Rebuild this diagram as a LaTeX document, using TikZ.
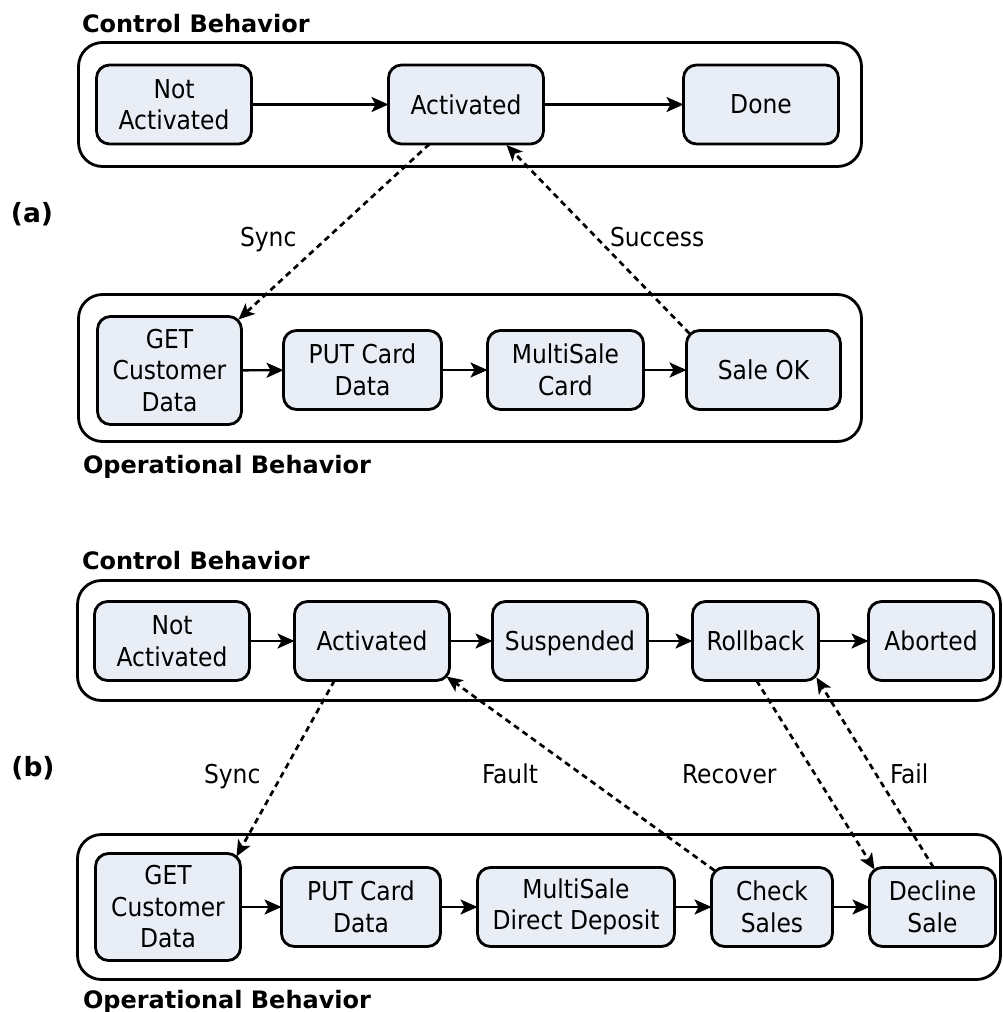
\documentclass[tikz,border=0pt]{standalone}
\usepackage{fontspec}
\setmainfont{DejaVu Sans Condensed}
\newfontfamily\headfont{DejaVu Sans}
\usetikzlibrary{arrows.meta,calc}
\definecolor{statefill}{HTML}{E9EEF6}
\begin{document}
\begin{tikzpicture}[x=1pt,y=-1pt,
  every node/.style={inner sep=0pt,outer sep=0pt},
  state/.style={draw,line width=2.8pt,rounded corners=13pt,fill=statefill,
    align=center,font=\fontsize{26}{31.5}\selectfont,minimum height=79pt},
  frame/.style={draw,line width=2.8pt,rounded corners=24pt},
  heading/.style={anchor=base west,font=\headfont\bfseries\fontsize{24}{28}\selectfont},
  part/.style={font=\headfont\bfseries\fontsize{26.5}{30}\selectfont},
  lbl/.style={anchor=base west,font=\fontsize{26}{30}\selectfont},
  flow/.style={line width=2.4pt,-{Stealth[length=17pt,width=15pt,inset=4pt]}},
  signal/.style={line width=2.7pt,dash pattern=on 6pt off 4.5pt,
    -{Stealth[length=16pt,width=14pt,inset=4pt]}}]
\useasboundingbox (0,0) rectangle (1003,1012);

% ---------------- (a) ----------------
\node[frame,minimum width=783pt,minimum height=124pt] (ctlA) at (470,104.5) {};
\node[heading] (ctlAt) at (82,32) {Control Behavior};
\node[state,minimum width=155pt] (naA) at (174,104.5) {Not\\Activated};
\node[state,minimum width=155pt] (actA) at (466,104.5) {Activated};
\node[state,minimum width=155pt] (doneA) at (761,104.5) {Done};
\draw[flow] (naA) -- (actA);
\draw[flow] (actA) -- (doneA);

\node[frame,minimum width=783pt,minimum height=147pt] (opA) at (470,368) {};
\node[heading] (opAt) at (83,473) {Operational Behavior};
\node[state,minimum width=144pt,minimum height=108pt] (getA) at (169.5,370.5) {GET\\Customer\\Data};
\node[state,minimum width=158pt] (putA) at (362.5,370) {PUT Card\\Data};
\node[state,minimum width=156pt] (msA) at (565.5,370) {MultiSale\\Card};
\node[state,minimum width=154pt] (okA) at (763.5,370) {Sale OK};
\draw[flow] (getA) -- (putA);
\draw[flow] (putA) -- (msA);
\draw[flow] (msA) -- (okA);

\node[part] (pa) at (32,214) {(a)};
\draw[signal] ($(actA.south west)+(41,0)$) -- ([shift={(-3,3)}]getA.north east);
\draw[signal] ([shift={(3,3)}]okA.north west) -- ($(actA.south east)+(-37,1)$);
\node[lbl] (syncA) at (240,246) {Sync};
\node[lbl] (succA) at (610,246) {Success};

% ---------------- (b) ----------------
\node[frame,minimum width=923pt,minimum height=120pt] (ctlB) at (539,640.5) {};
\node[heading] (ctlBt) at (82,569) {Control Behavior};
\node[state,minimum width=155pt] (naB) at (172,641) {Not\\Activated};
\node[state,minimum width=155pt] (actB) at (372,641) {Activated};
\node[state,minimum width=155pt,text depth=0pt] (susB) at (570,641) {Suspended};
\node[state,minimum width=126pt] (rbB) at (755.5,641) {Rollback};
\node[state,minimum width=125pt] (abB) at (931,641) {Aborted};
\draw[flow] (naB) -- (actB);
\draw[flow] (actB) -- (susB);
\draw[flow] (susB) -- (rbB);
\draw[flow] (rbB) -- (abB);

\node[frame,minimum width=923pt,minimum height=145pt] (opB) at (539,907) {};
\node[heading] (opBt) at (83,1008) {Operational Behavior};
\node[state,minimum width=145pt,minimum height=107pt] (getB) at (168,907) {GET\\Customer\\Data};
\node[state,minimum width=159pt] (putB) at (361,907) {PUT Card\\Data};
\node[state,minimum width=197pt] (msB) at (576,907) {MultiSale\\Direct Deposit};
\node[state,minimum width=121pt] (chkB) at (772,907) {Check\\Sales};
\node[state,minimum width=126pt] (decB) at (932.5,907) {Decline\\Sale};
\draw[flow] (getB) -- (putB);
\draw[flow] (putB) -- (msB);
\draw[flow] (msB) -- (chkB);
\draw[flow] (chkB) -- (decB);

\node[part] (pb) at (33,768) {(b)};
\draw[signal] ($(actB.south west)+(40,0)$) -- ([shift={(-4,3)}]getB.north east);
\draw[signal] ([shift={(3,3)}]chkB.north west) -- ([shift={(-3,-4)}]actB.south east);
\draw[signal] ($(rbB.south west)+(64,0)$) -- ([shift={(5,2)}]decB.north west);
\draw[signal] ($(decB.north west)+(64,0)$) -- ([shift={(-2,-3)}]rbB.south east);
\node[lbl] (syncB) at (204,783) {Sync};
\node[lbl] (faultB) at (482,783) {Fault};
\node[lbl] (recB) at (682,783) {Recover};
\node[lbl] (failB) at (890,783) {Fail};
\end{tikzpicture}
\end{document}
